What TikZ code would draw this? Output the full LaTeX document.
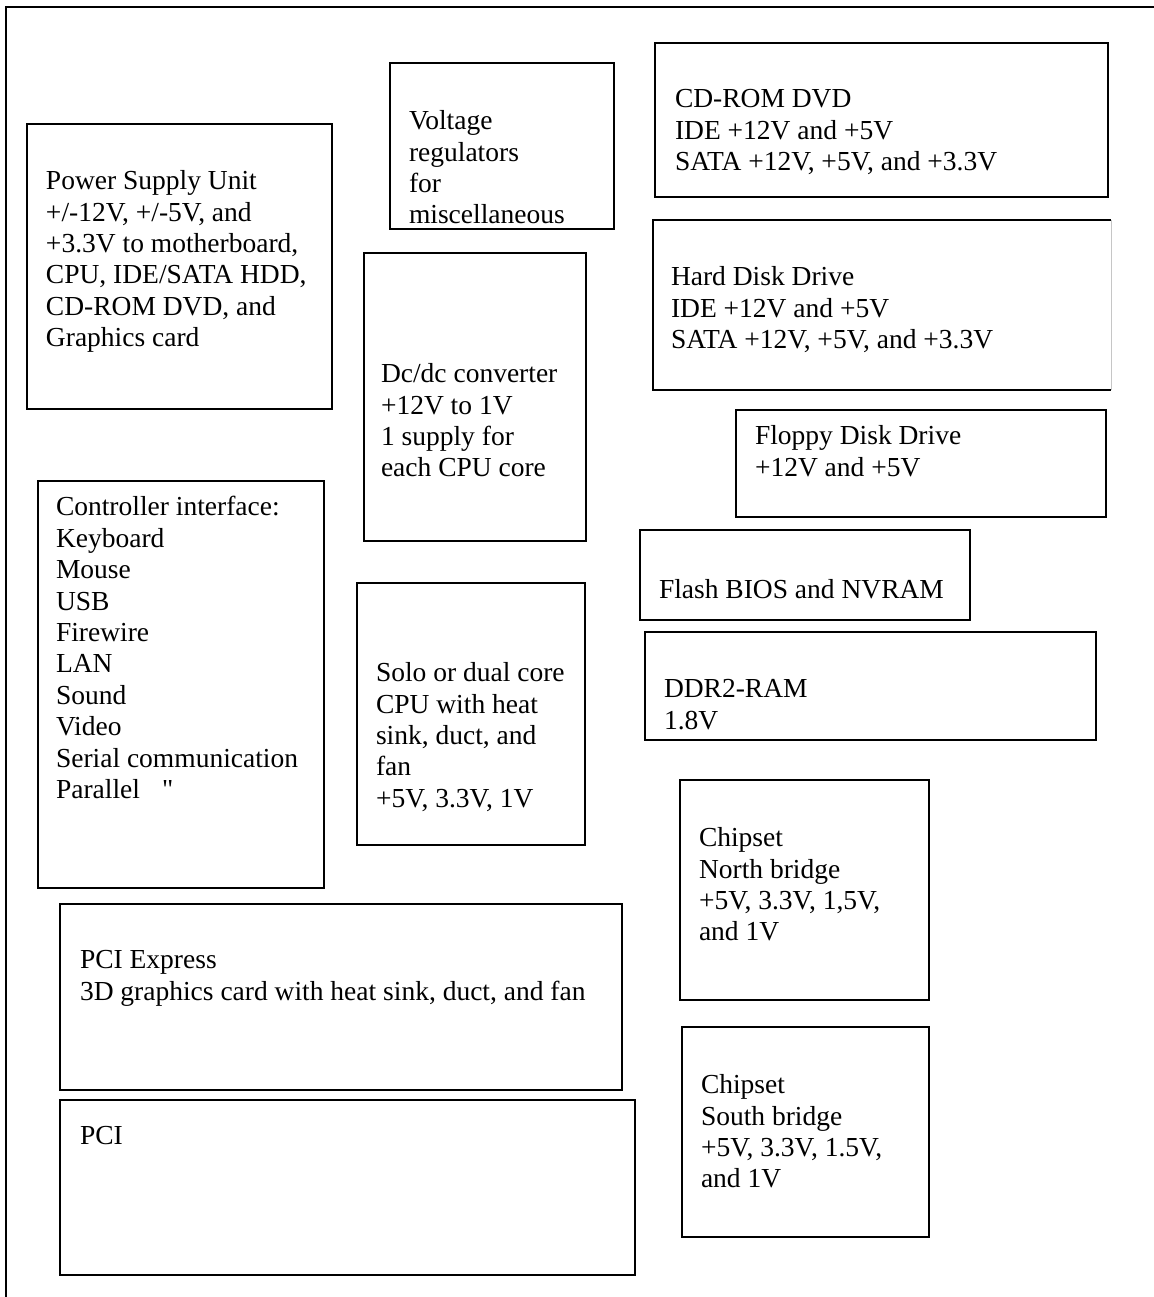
\documentclass[tikz,border=0pt]{standalone}
\usepackage{fontspec}
\setmainfont{Liberation Serif}[Ligatures=TeXOff]
\usetikzlibrary{fit}
\tikzset{
  box/.style={draw=black, line width=1pt, inner sep=0pt},
  txt/.style={anchor=north west, inner sep=0pt, outer sep=0pt, align=left,
    font=\fontsize{13.75pt}{15.7pt}\selectfont, yshift=5.2pt,
    execute at begin node=\strut},
  frame/.style={draw=black, line width=1pt}
}
\begin{document}
\begin{tikzpicture}[x=0.5pt,y=-0.5pt]
\useasboundingbox (0,0) rectangle (1154,1297);
\coordinate (ftr) at (1154,7);
\coordinate (ftl) at (6,7);
\coordinate (fbl) at (6,1297);
\draw[frame] (ftr) -- (ftl) -- (fbl);

% Power supply unit
\node[box, fit={(27,124) (332,409)}] (psu) {};
\node[txt] (psut) at (46,181) {Power Supply Unit\\+/-12V, +/-5V, and\\+3.3V to motherboard,\\CPU, IDE/SATA HDD,\\CD-ROM DVD, and\\Graphics card};

% Voltage regulators
\node[box, fit={(390,63) (614,229)}] (vreg) {};
\node[txt] (vregt) at (409,121) {Voltage\\regulators\\for\\miscellaneous};

% CD-ROM
\node[box, fit={(655,43) (1108,197)}] (cdrom) {};
\node[txt] (cdromt) at (675,100) {CD-ROM DVD\\IDE +12V and +5V\\SATA +12V, +5V, and +3.3V};

% Hard disk drive (right side faint)
\coordinate (hdtr) at (1111,220);
\coordinate (hdtl) at (653,220);
\coordinate (hdbl) at (653,390);
\coordinate (hdbr) at (1111,390);
\node[inner sep=0pt, fit={(hdtl) (hdbr)}] (hdd) {};
\draw[line width=1pt] (hdtr) -- (hdtl) -- (hdbl) -- (hdbr);
\draw[gray!45, line width=0.5pt] (hdtr) -- (hdbr);
\node[txt] (hddt) at (671,277) {Hard Disk Drive\\IDE +12V and +5V\\SATA +12V, +5V, and +3.3V};

% DC/DC converter
\node[box, fit={(364,253) (586,541)}] (dcdc) {};
\node[txt] (dcdct) at (381,374) {Dc/dc converter\\+12V to 1V\\1 supply for\\each CPU core};

% Floppy
\node[box, fit={(736,410) (1106,517)}] (fdd) {};
\node[txt] (fddt) at (755,436) {Floppy Disk Drive\\+12V and +5V};

% Controller interface
\node[box, fit={(38,481) (324,888)}] (ctrl) {};
\node[txt] (ctrlt) at (56,507) {Controller interface:\\Keyboard\\Mouse\\USB\\Firewire\\LAN\\Sound\\Video\\Serial communication\\Parallel\hspace{11pt}"};

% Flash BIOS
\node[box, fit={(640,530) (970,620)}] (bios) {};
\node[txt] (biost) at (659,587) {Flash BIOS and NVRAM};

% CPU
\node[box, fit={(357,583) (585,845)}] (cpu) {};
\node[txt] (cput) at (376,673) {Solo or dual core\\CPU with heat\\sink, duct, and\\fan\\+5V, 3.3V, 1V};

% DDR2
\node[box, fit={(645,632) (1096,740)}] (ddr) {};
\node[txt] (ddrt) at (664,690) {DDR2-RAM\\1.8V};

% North bridge
\node[box, fit={(680,780) (929,1000)}] (nb) {};
\node[txt] (nbt) at (699,838) {Chipset\\North bridge\\+5V, 3.3V, 1,5V,\\and 1V};

% PCI Express
\node[box, fit={(60,904) (622,1090)}] (pcie) {};
\node[txt] (pciet) at (80,961) {PCI Express\\3D graphics card with heat sink, duct, and fan};

% South bridge
\node[box, fit={(682,1027) (929,1237)}] (sb) {};
\node[txt] (sbt) at (701,1085) {Chipset\\South bridge\\+5V, 3.3V, 1.5V,\\and 1V};

% PCI
\node[box, fit={(60,1100) (635,1275)}] (pci) {};
\node[txt] (pcit) at (80,1133) {PCI};
\end{tikzpicture}
\end{document}
